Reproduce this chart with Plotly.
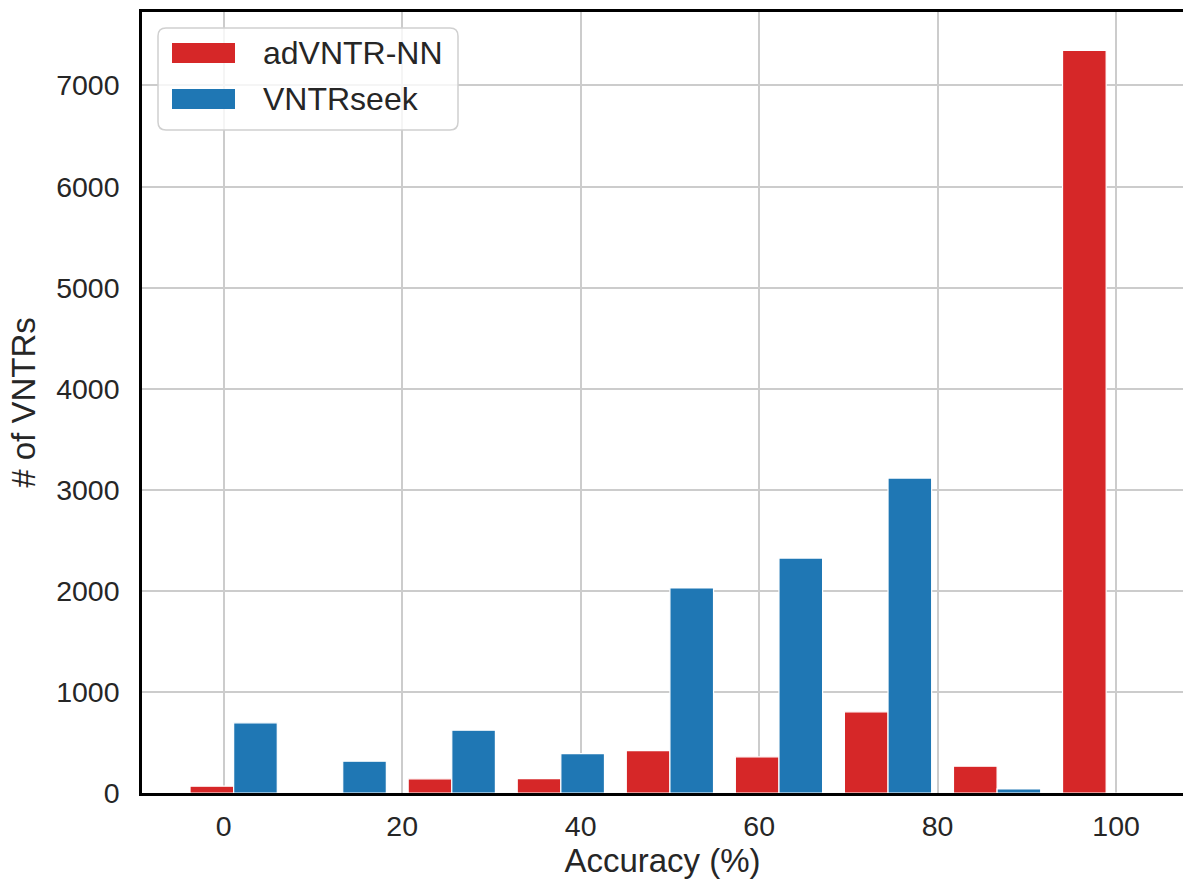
import plotly.graph_objects as go

# ---- data ----
bin_edges = [-5 + i * 110 / 9 for i in range(10)]
bin_centers = [(bin_edges[i] + bin_edges[i + 1]) / 2 for i in range(9)]
series_names = ["adVNTR-NN", "VNTRseek"]
advntr_counts = [68, 0, 140, 142, 420, 358, 803, 265, 7347]
vntrseek_counts = [694, 314, 621, 390, 2028, 2324, 3116, 40, 0]
x_ticks = [0, 20, 40, 60, 80, 100]
y_ticks = [0, 1000, 2000, 3000, 4000, 5000, 6000, 7000]
colors = ["#d62728", "#1f77b4"]

W, H = 1183, 882
L, T, B = 142, 12, 89
plot_w = W - L
plot_h = H - T - B

def px_x(p):
    return (p - L) / plot_w

def px_y(p):
    return (H - B - p) / plot_h

fig = go.Figure()
for name, vals, col in zip(series_names, [advntr_counts, vntrseek_counts], colors):
    fig.add_trace(go.Bar(
        x=bin_centers, y=vals, name=name,
        marker=dict(color=col, line=dict(color="white", width=1.2)),
        showlegend=False,
    ))

font_family = "Liberation Sans, Arial, sans-serif"
txt_col = "#262626"

fig.update_layout(
    width=W, height=H,
    margin=dict(l=L, r=0, t=T, b=B, pad=0),
    paper_bgcolor="white", plot_bgcolor="white",
    barmode="group", bargap=0.2, bargroupgap=0.0,
    font=dict(family=font_family, color=txt_col, size=24),
    xaxis=dict(
        range=[-9.16, 107.5], tickvals=x_ticks, ticktext=[str(v) for v in x_ticks],
        showgrid=True, gridcolor="#cccccc", gridwidth=1.6,
        showline=True, linecolor="black", linewidth=2.5, mirror=True,
        ticks="", zeroline=False, ticklabelstandoff=6,
        tickfont=dict(size=28.5, color=txt_col),
        title=dict(text="Accuracy (%)", font=dict(size=33, color=txt_col), standoff=6),
    ),
    yaxis=dict(
        range=[0, 7727], tickvals=y_ticks, ticktext=[str(v) for v in y_ticks],
        showgrid=True, gridcolor="#cccccc", gridwidth=1.6,
        showline=True, linecolor="black", linewidth=2.5,
        ticks="", zeroline=False, ticklabelstandoff=14,
        tickfont=dict(size=28.5, color=txt_col),
        title=dict(text="# of VNTRs", font=dict(size=33, color=txt_col), standoff=11),
    ),
)

# ---- custom legend (matplotlib style) ----
bx0, bx1, by0, by1, r = 158, 458, 28, 130, 8
X = lambda p: px_x(p)
Y = lambda p: px_y(p)
path = (
    f"M {X(bx0 + r)},{Y(by0)} L {X(bx1 - r)},{Y(by0)} "
    f"Q {X(bx1)},{Y(by0)} {X(bx1)},{Y(by0 + r)} "
    f"L {X(bx1)},{Y(by1 - r)} Q {X(bx1)},{Y(by1)} {X(bx1 - r)},{Y(by1)} "
    f"L {X(bx0 + r)},{Y(by1)} Q {X(bx0)},{Y(by1)} {X(bx0)},{Y(by1 - r)} "
    f"L {X(bx0)},{Y(by0 + r)} Q {X(bx0)},{Y(by0)} {X(bx0 + r)},{Y(by0)} Z"
)
fig.add_shape(type="path", path=path, xref="paper", yref="paper",
              fillcolor="rgba(255,255,255,0.8)", line=dict(color="#d0d0d0", width=1.5), layer="above")
rows = [(43, 63), (89, 109)]
for (ry0, ry1), name, col in zip(rows, series_names, colors):
    fig.add_shape(type="rect", xref="paper", yref="paper",
                  x0=X(172), x1=X(235), y0=Y(ry1), y1=Y(ry0),
                  fillcolor=col, line=dict(width=0), layer="above")
    fig.add_annotation(x=X(261), y=Y((ry0 + ry1) / 2), xref="paper", yref="paper",
                       text=name, showarrow=False, xanchor="left", yanchor="middle",
                       font=dict(size=32, color=txt_col, family=font_family))

fig.write_html("out.html")
